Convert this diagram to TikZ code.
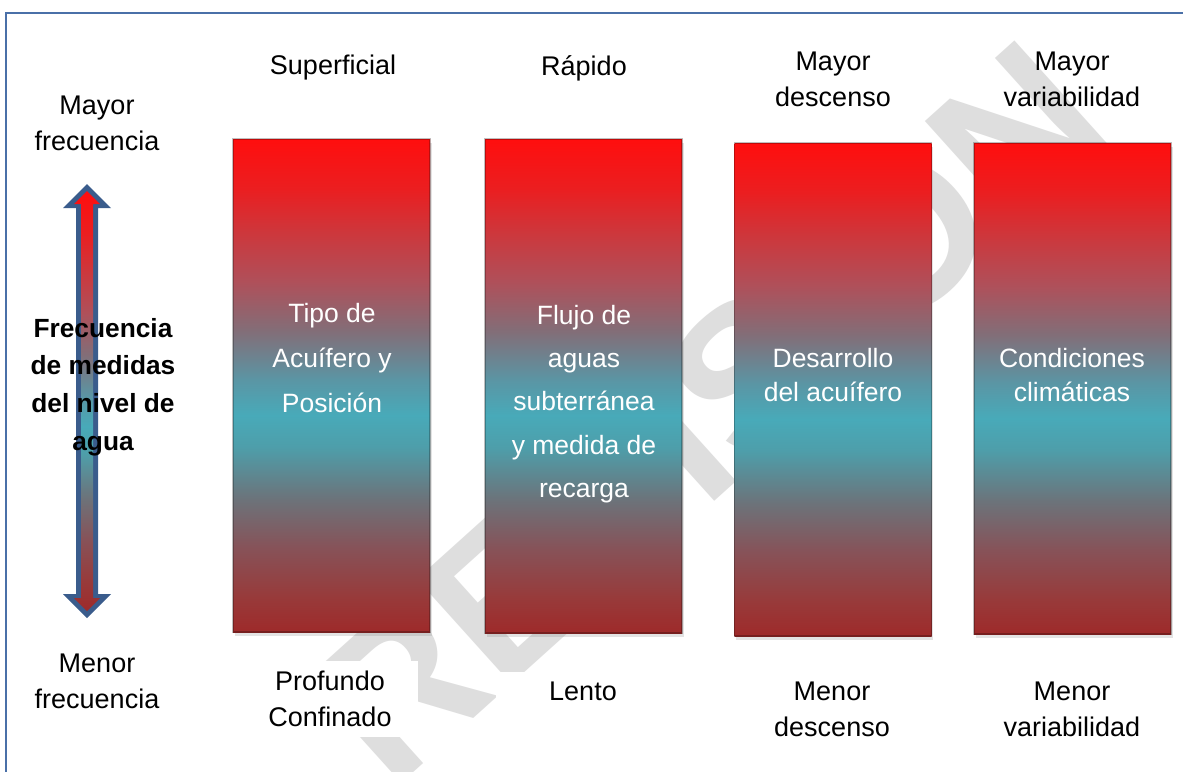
\documentclass[tikz,border=0pt]{standalone}
\usepackage{fontspec}
\setmainfont{Liberation Sans}
\usetikzlibrary{shadows}
\definecolor{framecol}{RGB}{74,112,168}
\definecolor{arrowblue}{RGB}{58,92,140}
\definecolor{wmark}{RGB}{222,222,222}
\definecolor{s0}{RGB}{158,42,42}
\definecolor{s1}{RGB}{152,58,58}
\definecolor{s2}{RGB}{135,82,88}
\definecolor{s3}{RGB}{108,115,122}
\definecolor{s4}{RGB}{78,158,170}
\definecolor{s5}{RGB}{72,170,185}
\definecolor{s6}{RGB}{90,150,165}
\definecolor{s7}{RGB}{130,110,120}
\definecolor{s8}{RGB}{175,80,90}
\definecolor{s9}{RGB}{205,55,60}
\definecolor{s10}{RGB}{235,30,32}
\definecolor{s11}{RGB}{255,14,14}
\pgfdeclareverticalshading{boxsh}{100bp}{color(0bp)=(s0); color(25bp)=(s0); color(28.5bp)=(s1); color(33.5bp)=(s2); color(38.5bp)=(s3); color(43.75bp)=(s4); color(47bp)=(s5); color(50.5bp)=(s6); color(55.5bp)=(s7); color(60.5bp)=(s8); color(65.5bp)=(s9); color(70bp)=(s10); color(75bp)=(s11); color(100bp)=(s11)}
\begin{document}
\begin{tikzpicture}[x=1pt,y=-1pt,
  lbl/.style={align=center, text=black, inner sep=0pt},
  lbltwo/.style={lbl, font=\fontsize{27}{36}\selectfont},
  lblone/.style={lbl, font=\fontsize{27}{36}\selectfont},
  lblwhite/.style={lbltwo, fill=white, inner xsep=12pt, inner ysep=10pt, minimum width=175pt},
  barbox/.style={shading=boxsh, draw=black, draw opacity=0.25, line width=1.2pt,
     minimum width=197pt, inner sep=0pt,
     drop shadow={opacity=0.22, shadow xshift=1.5pt, shadow yshift=-4pt}},
  boxtext/.style={align=center, text=white, inner sep=0pt}]
\useasboundingbox (0,0) rectangle (1183,771);
\fill[white] (0,0) rectangle (1183,771);
% watermark
\node[text=wmark, font=\bfseries\fontsize{205}{205}\selectfont, rotate=42, inner sep=0pt] (wm) at (708,412) {REVISION};
% frame
\draw[framecol, line width=1.5pt] (6,800) -- (6,13) -- (1200,13);
% bars
\node[barbox, minimum height=493pt] (b1) at (331.5,385.5) {};
\node[barbox, minimum height=494pt] (b2) at (583.5,386) {};
\node[barbox, minimum height=493pt] (b3) at (833,389.5) {};
\node[barbox, minimum height=491pt] (b4) at (1072.5,388.5) {};
% bar texts
\node[boxtext, font=\fontsize{26.5}{45}\selectfont] (t1) at (332,358) {Tipo de\\Acuífero y\\Posición};
\node[boxtext, font=\fontsize{26.5}{43.2}\selectfont] (t2) at (584,404) {Flujo de\\aguas\\subterránea\\y medida de\\recarga};
\node[boxtext, font=\fontsize{26.5}{34}\selectfont] (t3) at (833,375) {Desarrollo\\del acuífero};
\node[boxtext, font=\fontsize{26.5}{34}\selectfont] (t4) at (1072,375) {Condiciones\\climáticas};
% top labels
\node[lblone] (u1) at (333,68) {Superficial};
\node[lblone] (u2) at (584,68) {Rápido};
\node[lbltwo] (u3) at (833,79) {Mayor\\descenso};
\node[lbltwo] (u4) at (1072,79) {Mayor\\variabilidad};
\node[lbltwo] (lt) at (97,123) {Mayor\\frecuencia};
% bottom labels
\node[lblwhite] (d1) at (330,699) {Profundo\\Confinado};
\node[lblwhite] (d2) at (583,691) {Lento};
\node[lblwhite] (d3) at (832,709) {Menor\\descenso};
\node[lblwhite] (d4) at (1072,709) {Menor\\variabilidad};
\node[lbltwo] (lb) at (97,681) {Menor\\frecuencia};
% double arrow
\fill[arrowblue] (87,184) -- (111,208) -- (98,208) -- (98,594) -- (111,594) -- (87,618) -- (63,594) -- (76,594) -- (76,208) -- (63,208) -- cycle;
\shade[shading=boxsh] (87,191) -- (100,204) -- (93,204) -- (93,598) -- (100,598) -- (87,611) -- (74,598) -- (81,598) -- (81,204) -- (74,204) -- cycle;
% central bold label
\node[lbl, font=\bfseries\fontsize{26.3}{37.6}\selectfont] (mid) at (103,387) {Frecuencia\\de medidas\\del nivel de\\agua};
\end{tikzpicture}
\end{document}
